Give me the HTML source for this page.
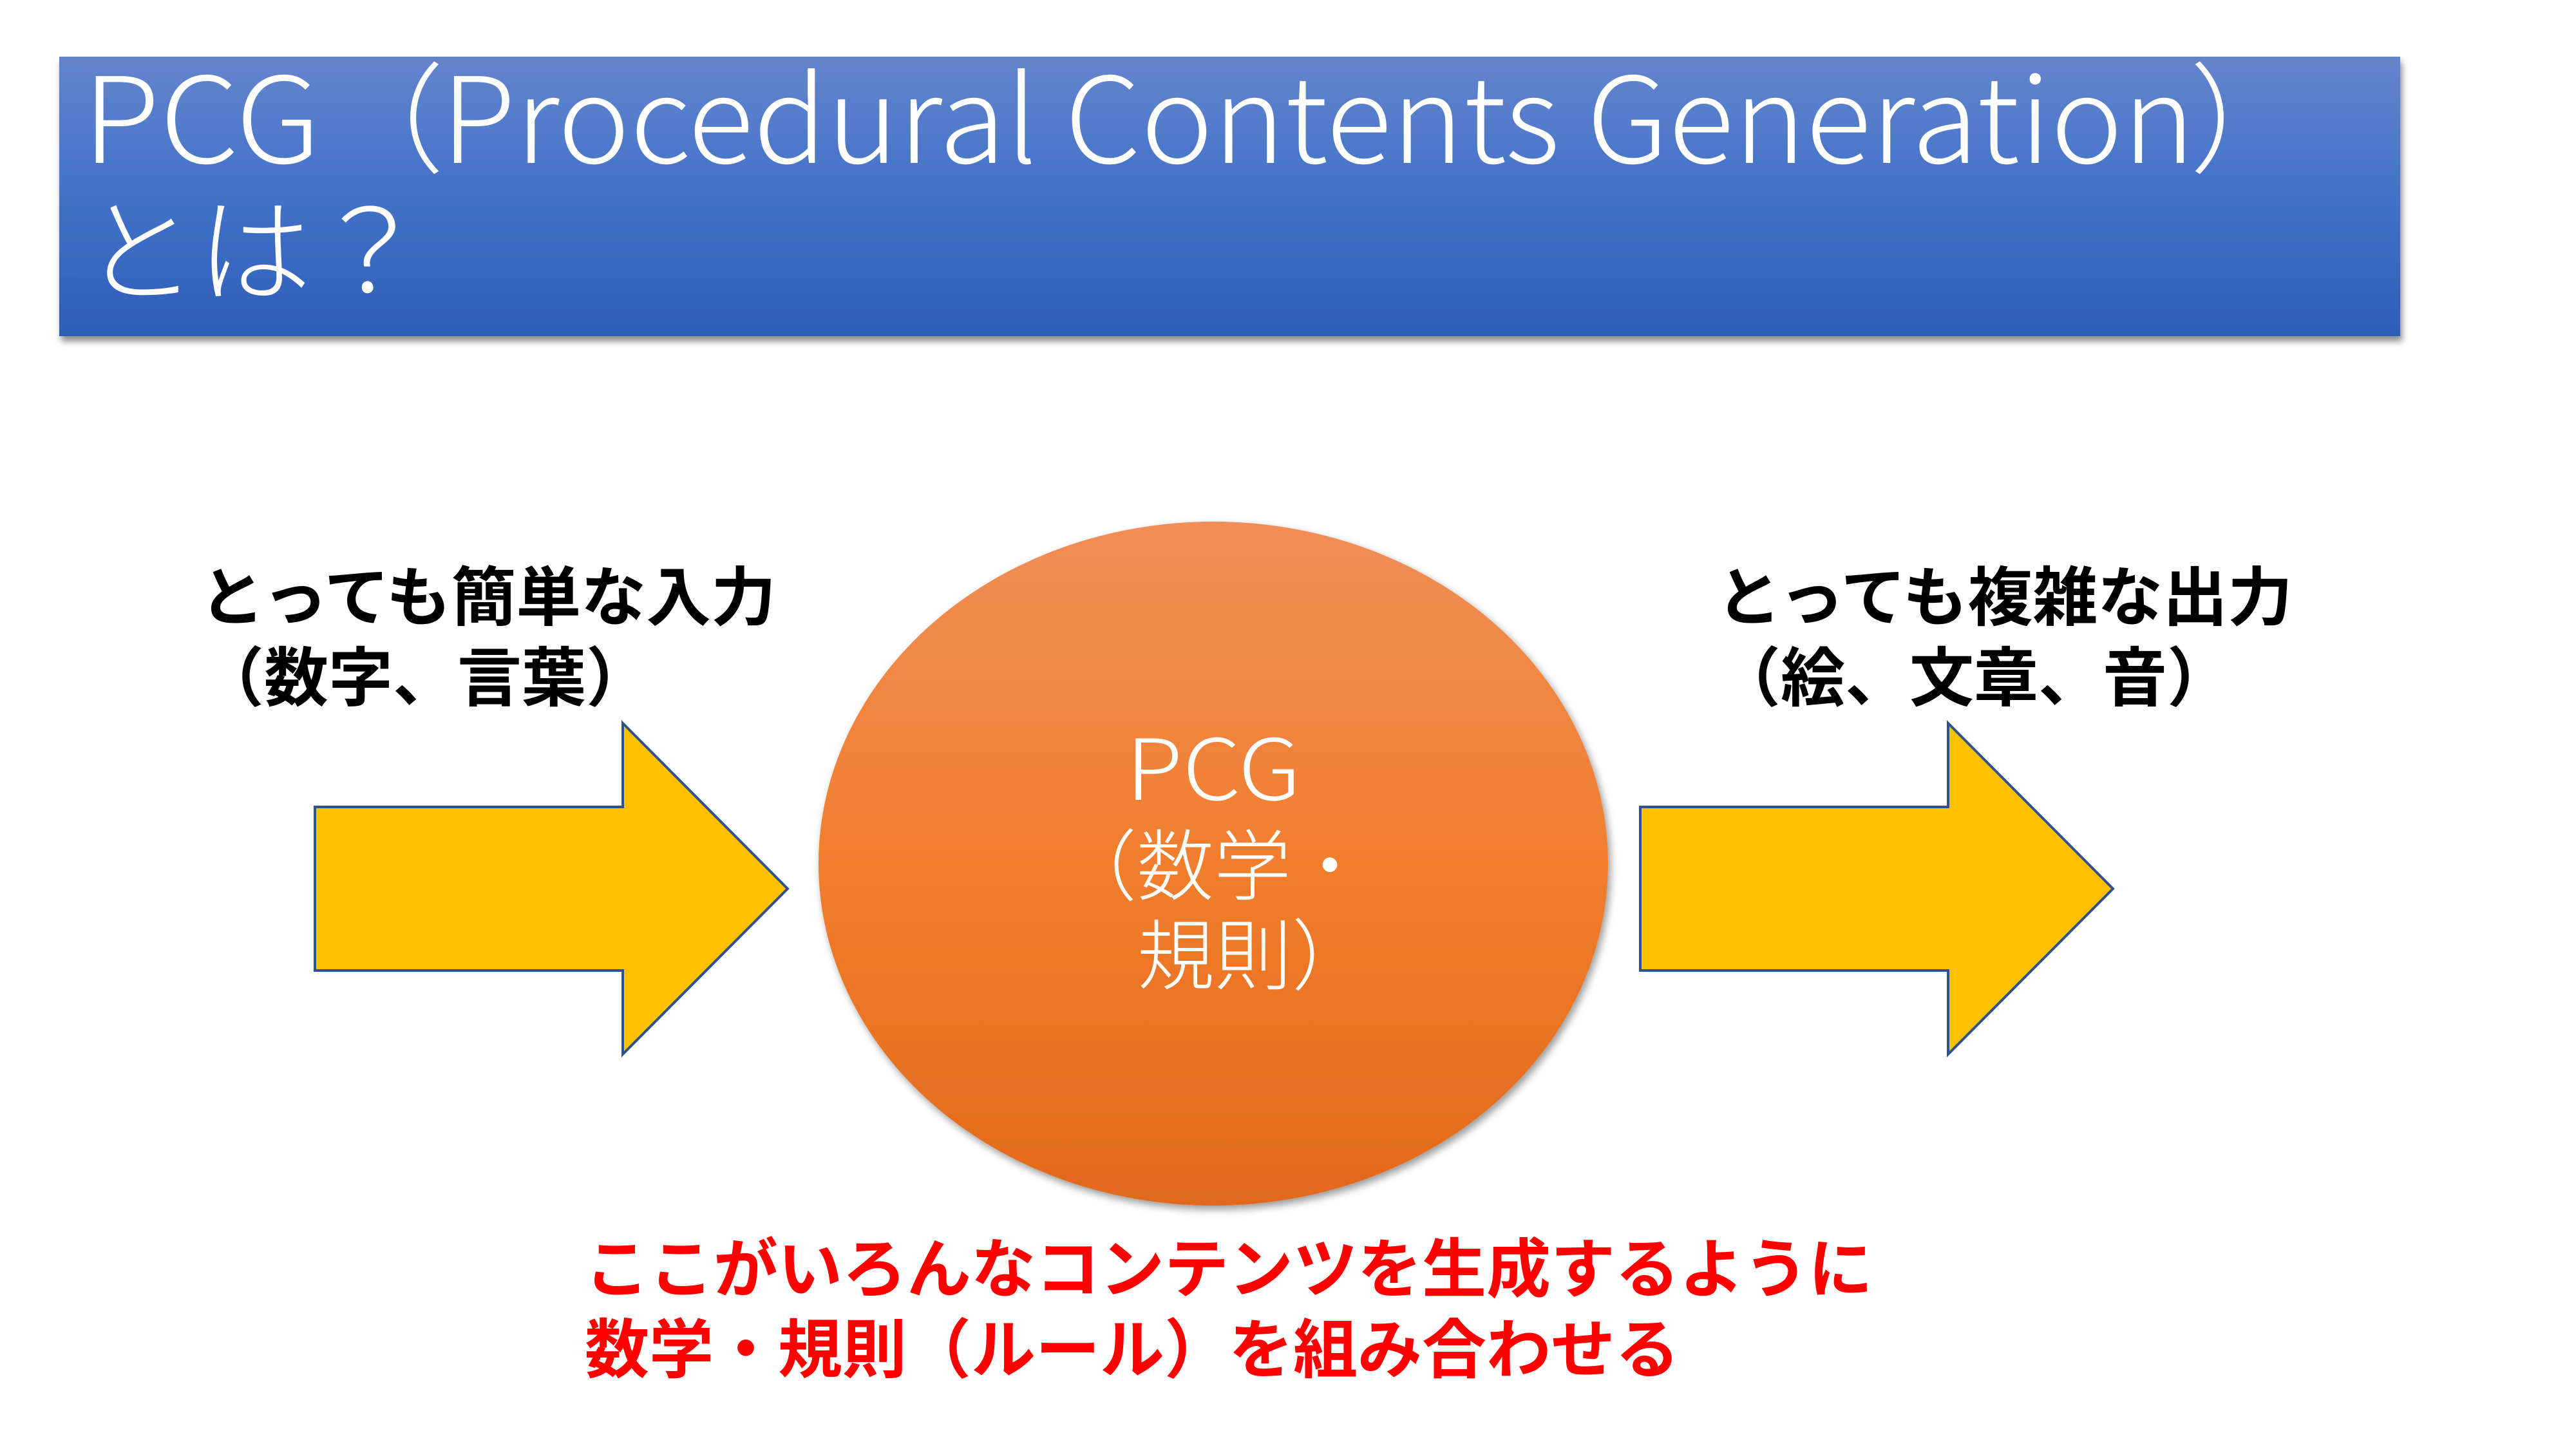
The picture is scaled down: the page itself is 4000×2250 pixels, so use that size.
<!DOCTYPE html>
<html><head><meta charset="utf-8">
<style>
html,body{margin:0;padding:0;background:#fff;}
body{width:4000px;height:2250px;overflow:hidden;}
svg{display:block;}
.t{font-family:"Noto Sans CJK JP","Liberation Sans",sans-serif;font-weight:300;fill:#fff;}
.b{font-family:"Liberation Sans","Noto Sans CJK JP",sans-serif;font-weight:bold;}
</style></head>
<body>
<svg width="4000" height="2250" viewBox="0 0 4000 2250" xmlns="http://www.w3.org/2000/svg">
<defs>
<linearGradient id="tg" x1="0" y1="0" x2="0" y2="1">
<stop offset="0" stop-color="#6485CD"/>
<stop offset="0.45" stop-color="#4574C9"/>
<stop offset="1" stop-color="#2E5EB8"/>
</linearGradient>
<linearGradient id="cg" x1="0" y1="0" x2="0" y2="1">
<stop offset="0" stop-color="#F08E58"/>
<stop offset="0.5" stop-color="#F07E2D"/>
<stop offset="1" stop-color="#E2691A"/>
</linearGradient>
<filter id="sh" x="-5%" y="-10%" width="110%" height="130%">
<feDropShadow dx="3" dy="8" stdDeviation="5" flood-color="#000" flood-opacity="0.45"/>
</filter>
<filter id="sh2" x="-10%" y="-10%" width="120%" height="120%">
<feDropShadow dx="4" dy="6" stdDeviation="6" flood-color="#000" flood-opacity="0.4"/>
</filter>
</defs>

<!-- Title box -->
<rect x="92" y="88" width="3635" height="434" fill="url(#tg)" filter="url(#sh)"/>
<text class="t" x="128" y="253" font-size="185" textLength="370" lengthAdjust="spacingAndGlyphs">PCG</text>
<text class="t" x="505" y="253" font-size="185">（</text>
<text class="t" x="685" y="253" font-size="185" textLength="2723" lengthAdjust="spacingAndGlyphs">Procedural Contents Generation</text>
<text class="t" x="3400" y="253" font-size="185">）</text>
<text class="t" x="128" y="455" font-size="178" textLength="534" lengthAdjust="spacingAndGlyphs">とは？</text>

<!-- Left labels -->
<text class="b" x="310" y="963" font-size="100" fill="#000" textLength="895" lengthAdjust="spacingAndGlyphs">とっても簡単な入力</text>
<text class="b" x="310" y="1088" font-size="100" fill="#000" textLength="700" lengthAdjust="spacingAndGlyphs">（数字、言葉）</text>

<!-- Right labels -->
<text class="b" x="2665" y="963" font-size="100" fill="#000" textLength="895" lengthAdjust="spacingAndGlyphs">とっても複雑な出力</text>
<text class="b" x="2665" y="1088" font-size="100" fill="#000" textLength="800" lengthAdjust="spacingAndGlyphs">（絵、文章、音）</text>

<!-- Left arrow -->
<polygon points="489,1253 967,1253 967,1123 1223,1380 967,1637 967,1507 489,1507" fill="#FFC000" stroke="#2F528F" stroke-width="4" stroke-linejoin="miter"/>

<!-- Right arrow -->
<polygon points="2547,1253 3025,1253 3025,1123 3281,1380 3025,1637 3025,1507 2547,1507" fill="#FFC000" stroke="#2F528F" stroke-width="4" stroke-linejoin="miter"/>

<!-- Circle -->
<ellipse cx="1884" cy="1341" rx="613" ry="531" fill="url(#cg)" filter="url(#sh2)"/>
<text class="t" x="1748" y="1242" font-size="131" textLength="272" lengthAdjust="spacingAndGlyphs">PCG</text>
<text class="t" x="1645" y="1388" font-size="120" textLength="480" lengthAdjust="spacingAndGlyphs">（数学・</text>
<text class="t" x="1766" y="1527" font-size="120" textLength="360" lengthAdjust="spacingAndGlyphs">規則）</text>

<!-- Red note -->
<text class="b" x="908" y="2006" font-size="100" fill="#FF0000" textLength="2000" lengthAdjust="spacingAndGlyphs">ここがいろんなコンテンツを生成するように</text>
<text class="b" x="908" y="2131" font-size="100" fill="#FF0000" textLength="1700" lengthAdjust="spacingAndGlyphs">数学・規則（ルール）を組み合わせる</text>
</svg>
</body></html>
